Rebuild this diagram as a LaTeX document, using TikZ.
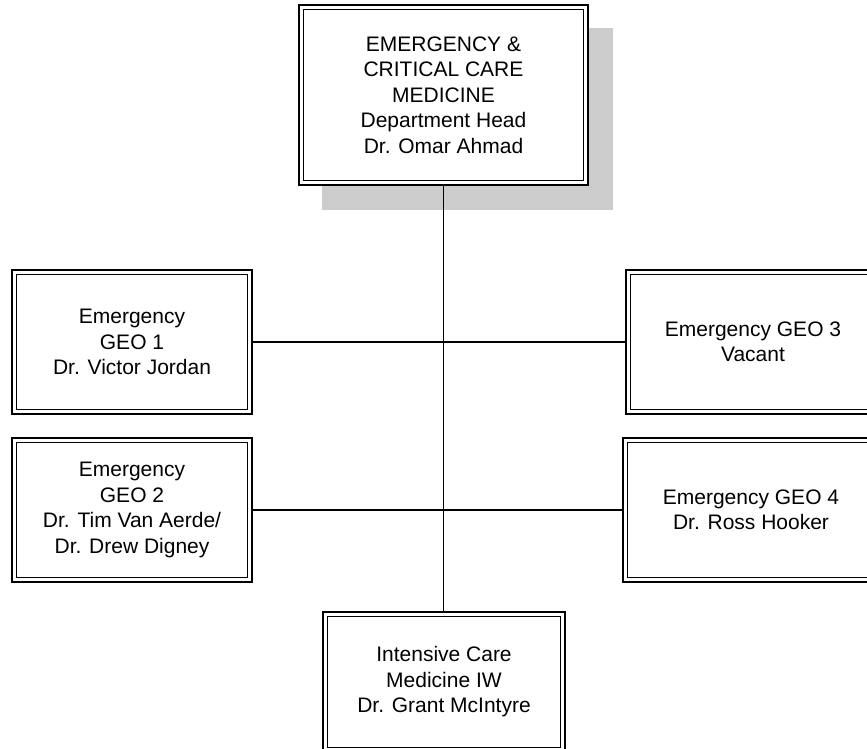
\documentclass[tikz,border=0pt]{standalone}
\usepackage{fontspec}
\setmainfont{Liberation Sans}
\begin{document}
\begin{tikzpicture}[x=1pt,y=-1pt,
  orgbox/.style={draw, line width=2pt, fill=white, inner sep=0pt, align=center,
    font=\fontsize{21pt}{25.5pt}\selectfont,
    path picture={\draw[line width=1pt]
      ([shift={(4.5pt,-4.5pt)}]path picture bounding box.north west) rectangle
      ([shift={(-4.5pt,4.5pt)}]path picture bounding box.south east);}},
  conn/.style={draw, line width=1.3pt},
  shadowfill/.style={fill=black!20, draw=none}]
\useasboundingbox (0,0) rectangle (867,749);
\clip (0,0) rectangle (867,749);
\fill[white] (0,0) rectangle (867,749);
% shadow of head box
\path[shadowfill] (322,28) rectangle (613,210);
% nodes
\node[orgbox, minimum width=289pt, minimum height=180pt] (head) at (443.5,95)
  {EMERGENCY \&\\CRITICAL CARE\\MEDICINE\\Department Head\\Dr. Omar Ahmad};
\node[orgbox, minimum width=240pt, minimum height=144pt] (geo1) at (132,342)
  {Emergency\\GEO 1\\Dr. Victor Jordan};
\node[orgbox, minimum width=240pt, minimum height=144pt] (geo2) at (132,510)
  {Emergency\\GEO 2\\Dr. Tim Van Aerde/\\Dr. Drew Digney};
\node[orgbox, minimum width=254pt, minimum height=144pt] (geo3) at (753,342)
  {Emergency GEO 3\\Vacant};
\node[orgbox, minimum width=256pt, minimum height=144pt] (geo4) at (751,510)
  {Emergency GEO 4\\Dr. Ross Hooker};
\node[orgbox, minimum width=242pt, minimum height=140pt] (icu) at (444,682)
  {Intensive Care\\Medicine IW\\Dr. Grant McIntyre};
% connectors
\draw[conn] (head.south) -- (head.south |- icu.north);
\draw[conn] (geo1.east) -- (geo3.west);
\draw[conn] (geo2.east) -- (geo4.west);
\end{tikzpicture}
\end{document}
